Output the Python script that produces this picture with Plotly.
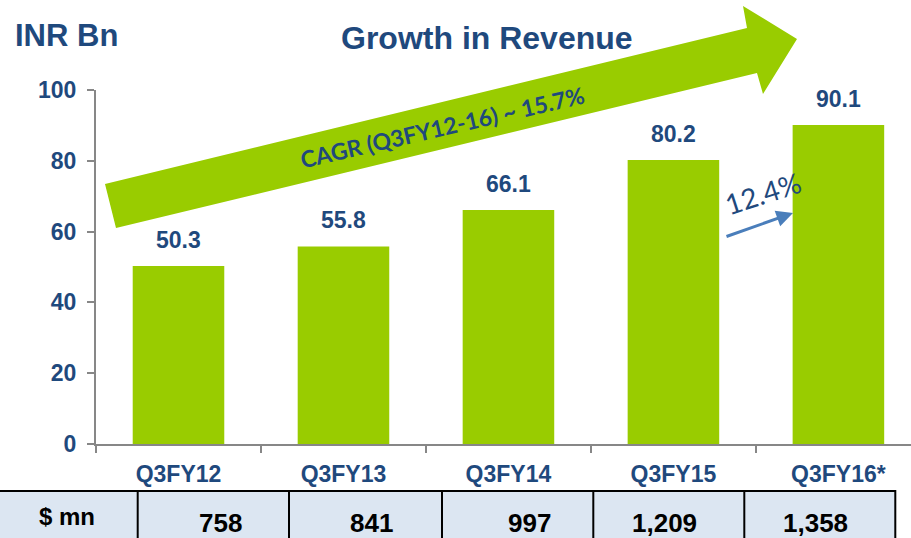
import plotly.graph_objects as go

# ---------------- data ----------------
categories = ["Q3FY12", "Q3FY13", "Q3FY14", "Q3FY15", "Q3FY16*"]
revenue_inr_bn = [50.3, 55.8, 66.1, 80.2, 90.1]
revenue_usd_mn = ["758", "841", "997", "1,209", "1,358"]
y_ticks = [0, 20, 40, 60, 80, 100]
cagr_text = "CAGR (Q3FY12-16) ~ 15.7%"
yoy_text = "12.4%"
table_row_label = "$ mn"

# ---------------- style ----------------
W, H = 911, 538
L, R, T, B = 96, 911, 90, 444          # plot area in pixels
GREEN = "#99CC00"
BLUE = "#1F497D"
AXIS = "#878787"
ARIAL = "Liberation Sans, Arial, sans-serif"
CAL = "Lato, Carlito, Calibri, sans-serif"


def px(x):
    return (x - L) / (R - L)


def py(y):
    return (B - y) / (B - T)


fig = go.Figure(
    go.Bar(
        x=categories,
        y=revenue_inr_bn,
        marker=dict(color=GREEN, line=dict(width=0)),
        width=0.555,
        hoverinfo="x+y",
    )
)

annotations = []
# value labels above bars
for c, v in zip(categories, revenue_inr_bn):
    annotations.append(dict(
        x=c, y=v, xref="x", yref="y", text=f"{v:.1f}", showarrow=False,
        yanchor="bottom", yshift=11,
        font=dict(family=ARIAL, size=23, color=BLUE, weight="bold"),
    ))

# titles
annotations.append(dict(
    x=px(66), y=py(36), xref="paper", yref="paper", text="INR Bn",
    showarrow=False, xanchor="center", yanchor="middle",
    font=dict(family=ARIAL, size=31, color=BLUE, weight="bold"),
))
annotations.append(dict(
    x=px(487), y=py(38), xref="paper", yref="paper", text="Growth in Revenue",
    showarrow=False, xanchor="center", yanchor="middle",
    font=dict(family=ARIAL, size=32, color=BLUE, weight="bold"),
))

# CAGR text on big arrow
annotations.append(dict(
    x=px(442), y=py(127), xref="paper", yref="paper", text=cagr_text,
    showarrow=False, textangle=-13, xanchor="center", yanchor="middle",
    font=dict(family=CAL, size=23, color=BLUE, weight="bold"),
))

# 12.4% text
annotations.append(dict(
    x=px(763), y=py(193), xref="paper", yref="paper", text=yoy_text,
    showarrow=False, textangle=-18, xanchor="center", yanchor="middle",
    font=dict(family=CAL, size=28, color=BLUE),
))

# small blue arrow
annotations.append(dict(
    x=px(793), y=py(213), xref="paper", yref="paper", text="",
    showarrow=True, ax=-68, ay=24, arrowhead=2, arrowsize=1.1,
    arrowwidth=3, arrowcolor="#4A7EBB", standoff=0,
))

# table texts
annotations.append(dict(
    x=px(67), y=py(516), xref="paper", yref="paper", text=table_row_label,
    showarrow=False, xanchor="center", yanchor="middle",
    font=dict(family=ARIAL, size=24, color="#000000", weight="bold"),
))
cell_text_x = [220, 371, 529, 664, 815]
for cx, t in zip(cell_text_x, revenue_usd_mn):
    annotations.append(dict(
        x=px(cx), y=py(523), xref="paper", yref="paper", text=t,
        showarrow=False, xanchor="center", yanchor="middle",
        font=dict(family=ARIAL, size=26, color="#000000", weight="bold"),
    ))

shapes = []
# big green arrow
pts = [(116, 228), (105, 184), (747, 28), (743, 6), (797, 39), (763, 94), (757, 73)]
path = "M " + " L ".join(f"{px(x):.5f},{py(y):.5f}" for x, y in pts) + " Z"
shapes.append(dict(type="path", xref="paper", yref="paper", path=path,
                   fillcolor=GREEN, line=dict(width=0), layer="above"))

# table
col_edges = [137.7, 289, 442, 593.3, 744.3, 895.3]
shapes.append(dict(type="rect", xref="paper", yref="paper",
                   x0=px(-3), x1=px(col_edges[-1]), y0=py(491), y1=py(548),
                   fillcolor="#DCE6F2", line=dict(color="#000000", width=2),
                   layer="above"))
for e in col_edges[:-1]:
    shapes.append(dict(type="line", xref="paper", yref="paper",
                       x0=px(e), x1=px(e), y0=py(491), y1=py(548),
                       line=dict(color="#000000", width=2), layer="above"))

fig.update_layout(
    width=W, height=H,
    margin=dict(l=L, r=W - R, t=T, b=H - B, pad=0),
    paper_bgcolor="white", plot_bgcolor="white",
    showlegend=False,
    annotations=annotations,
    shapes=shapes,
    xaxis=dict(
        type="category", range=[-0.5, 4.44],
        showline=True, linecolor=AXIS, linewidth=2,
        ticks="outside", tickson="boundaries", ticklen=7, tickwidth=1.5,
        tickcolor=AXIS, showgrid=False, zeroline=False,
        tickfont=dict(family=ARIAL, size=23, color=BLUE, weight="bold"),
        ticklabelstandoff=8,
    ),
    yaxis=dict(
        range=[0, 100], tickvals=y_ticks,
        showline=True, linecolor=AXIS, linewidth=2,
        ticks="outside", ticklen=7, tickwidth=1.5, tickcolor=AXIS,
        showgrid=False, zeroline=False,
        tickfont=dict(family=ARIAL, size=23, color=BLUE, weight="bold"),
        ticklabelstandoff=6,
    ),
)

fig.write_html(
    "out.html",
    config={"displayModeBar": False},
    post_script="document.body.style.margin='0';document.body.style.overflow='hidden';",
)
